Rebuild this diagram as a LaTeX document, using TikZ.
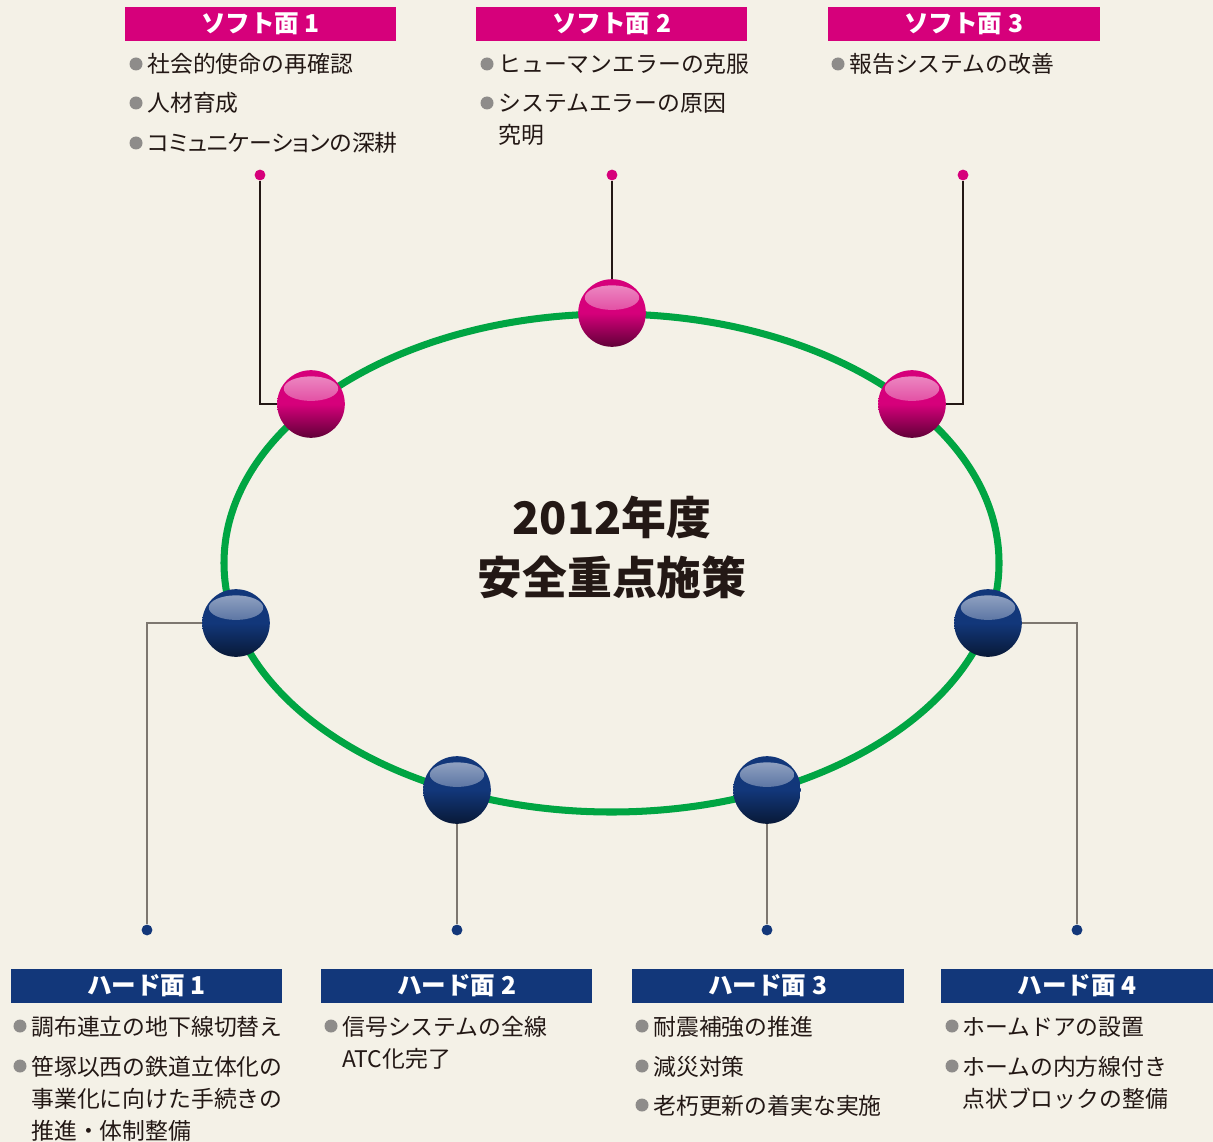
\documentclass[tikz,border=0pt]{standalone}
\usepackage{fontspec}
\setmainfont{Noto Sans CJK JP}
\definecolor{bgcol}{HTML}{F4F1E7}
\definecolor{softpink}{HTML}{D6007B}
\definecolor{hardnavy}{HTML}{12377A}
\definecolor{ringgreen}{HTML}{00A543}
\definecolor{bulgray}{HTML}{8E8C8A}
\definecolor{inkcol}{HTML}{231815}
\definecolor{hardline}{HTML}{7D7770}
\tikzset{
  header/.style={fill=#1, text=white, font=\fontsize{14}{16}\selectfont\bfseries, minimum width=154.8pt, minimum height=19.3pt, inner sep=0},
  sphere/.style={circle, inner sep=0, minimum size=38.5pt, top color=#1, bottom color=#1!45!black, middle color=#1,
    path picture={\shade[top color=white!58!#1, bottom color=#1] ([yshift=-10.5pt]path picture bounding box.north) ellipse [x radius=15.5pt, y radius=7pt];}},
  pin/.style={circle, fill=#1, inner sep=0, minimum size=6.2pt},
  bul/.style={circle, fill=bulgray, inner sep=0, minimum size=7.4pt},
  item/.style={anchor=base west, inner sep=0, text=inkcol, font=\fontsize{13}{16}\selectfont},
  softlink/.style={draw=inkcol, line width=0.8pt},
  hardlink/.style={draw=hardline, line width=0.8pt},
  ring/.style={draw=ringgreen, line width=4pt}
}
\begin{document}
\begin{tikzpicture}[x=0.02cm, y=-0.02cm]
            \fill[bgcol] (0,0) rectangle (1213,1142);
            \useasboundingbox (0,0) rectangle (1213,1142);

            \draw[ring] (611.5,563) ellipse [x radius=387.5, y radius=249];

            \node[text=inkcol, font=\fontsize{25.5}{30}\selectfont\bfseries, anchor=base] (TA) at (612,534) {2012年度};
            \node[text=inkcol, font=\fontsize{25.5}{30}\selectfont\bfseries, anchor=base] (TB) at (612,594) {安全重点施策};

            \node[header=softpink] (KA) at (260.5,24) {ソフト面 1};
            \node[header=softpink] (KB) at (611.5,24) {ソフト面 2};
            \node[header=softpink] (KC) at (963.5,24) {ソフト面 3};

            \node[header=hardnavy] (KD) at (146.5,986) {ハード面 1};
            \node[header=hardnavy] (KE) at (456.5,986) {ハード面 2};
            \node[header=hardnavy] (KF) at (767.5,986) {ハード面 3};
            \node[header=hardnavy] (KG) at (1077,986) {ハード面 4};

            \node[pin=softpink] (PA) at (260,175) {};
            \node[pin=softpink] (PB) at (612,175) {};
            \node[pin=softpink] (PC) at (963,175) {};

            \node[pin=hardnavy] (QA) at (147,930) {};
            \node[pin=hardnavy] (QB) at (457,930) {};
            \node[pin=hardnavy] (QC) at (767,930) {};
            \node[pin=hardnavy] (QD) at (1077,930) {};

            \node[sphere=softpink] (SA) at (311,404) {};
            \node[sphere=softpink] (SB) at (612,313) {};
            \node[sphere=softpink] (SC) at (912,404) {};

            \node[sphere=hardnavy] (HA) at (236,623) {};
            \node[sphere=hardnavy] (HB) at (457,790) {};
            \node[sphere=hardnavy] (HC) at (767,790) {};
            \node[sphere=hardnavy] (HD) at (988,623) {};

            \draw[softlink] (PA) |- (SA);
            \draw[softlink] (PB) -- (SB);
            \draw[softlink] (PC) |- (SC);

            \draw[hardlink] (HA) -| (QA);
            \draw[hardlink] (HB) -- (QB);
            \draw[hardlink] (HC) -- (QC);
            \draw[hardlink] (HD) -| (QD);

            \node[bul] (BA1) at (136,64) {};
            \node[item] (IA1) at (147,73) {社会的使命の再確認};
            \node[bul] (BA2) at (136,103) {};
            \node[item] (IA2) at (147,112) {人材育成};
            \node[bul] (BA3) at (136,143) {};
            \node[item] (IA3) at (147,152) {\addfontfeature{RawFeature=+palt}コミュニケーションの深耕};

            \node[bul] (BB1) at (487,64) {};
            \node[item] (IB1) at (498,73) {ヒューマンエラーの克服};
            \node[bul] (BB2) at (487,103) {};
            \node[item] (IB2) at (498,112) {システムエラーの原因};
            \node[item] (IB3) at (498,144) {究明};

            \node[bul] (BC1) at (838,64) {};
            \node[item] (IC1) at (849,73) {報告システムの改善};

            \node[bul] (BD1) at (20,1026) {};
            \node[item] (ID1) at (31,1035) {調布連立の地下線切替え};
            \node[bul] (BD2) at (20,1066) {};
            \node[item] (ID2) at (31,1075) {笹塚以西の鉄道立体化の};
            \node[item] (ID3) at (31,1107) {事業化に向けた手続きの};
            \node[item] (ID4) at (31,1139) {推進・体制整備};

            \node[bul] (BE1) at (331,1026) {};
            \node[item] (IE1) at (342,1035) {信号システムの全線};
            \node[item] (IE2) at (342,1067) {ATC化完了};

            \node[bul] (BF1) at (642,1026) {};
            \node[item] (IF1) at (653,1035) {耐震補強の推進};
            \node[bul] (BF2) at (642,1066) {};
            \node[item] (IF2) at (653,1075) {減災対策};
            \node[bul] (BF3) at (642,1105) {};
            \node[item] (IF3) at (653,1114) {老朽更新の着実な実施};

            \node[bul] (BG1) at (952,1026) {};
            \node[item] (IG1) at (962,1035) {ホームドアの設置};
            \node[bul] (BG2) at (952,1066) {};
            \node[item] (IG2) at (962,1075) {ホームの内方線付き};
            \node[item] (IG3) at (962,1107) {点状ブロックの整備};
        \end{tikzpicture}
\end{document}
